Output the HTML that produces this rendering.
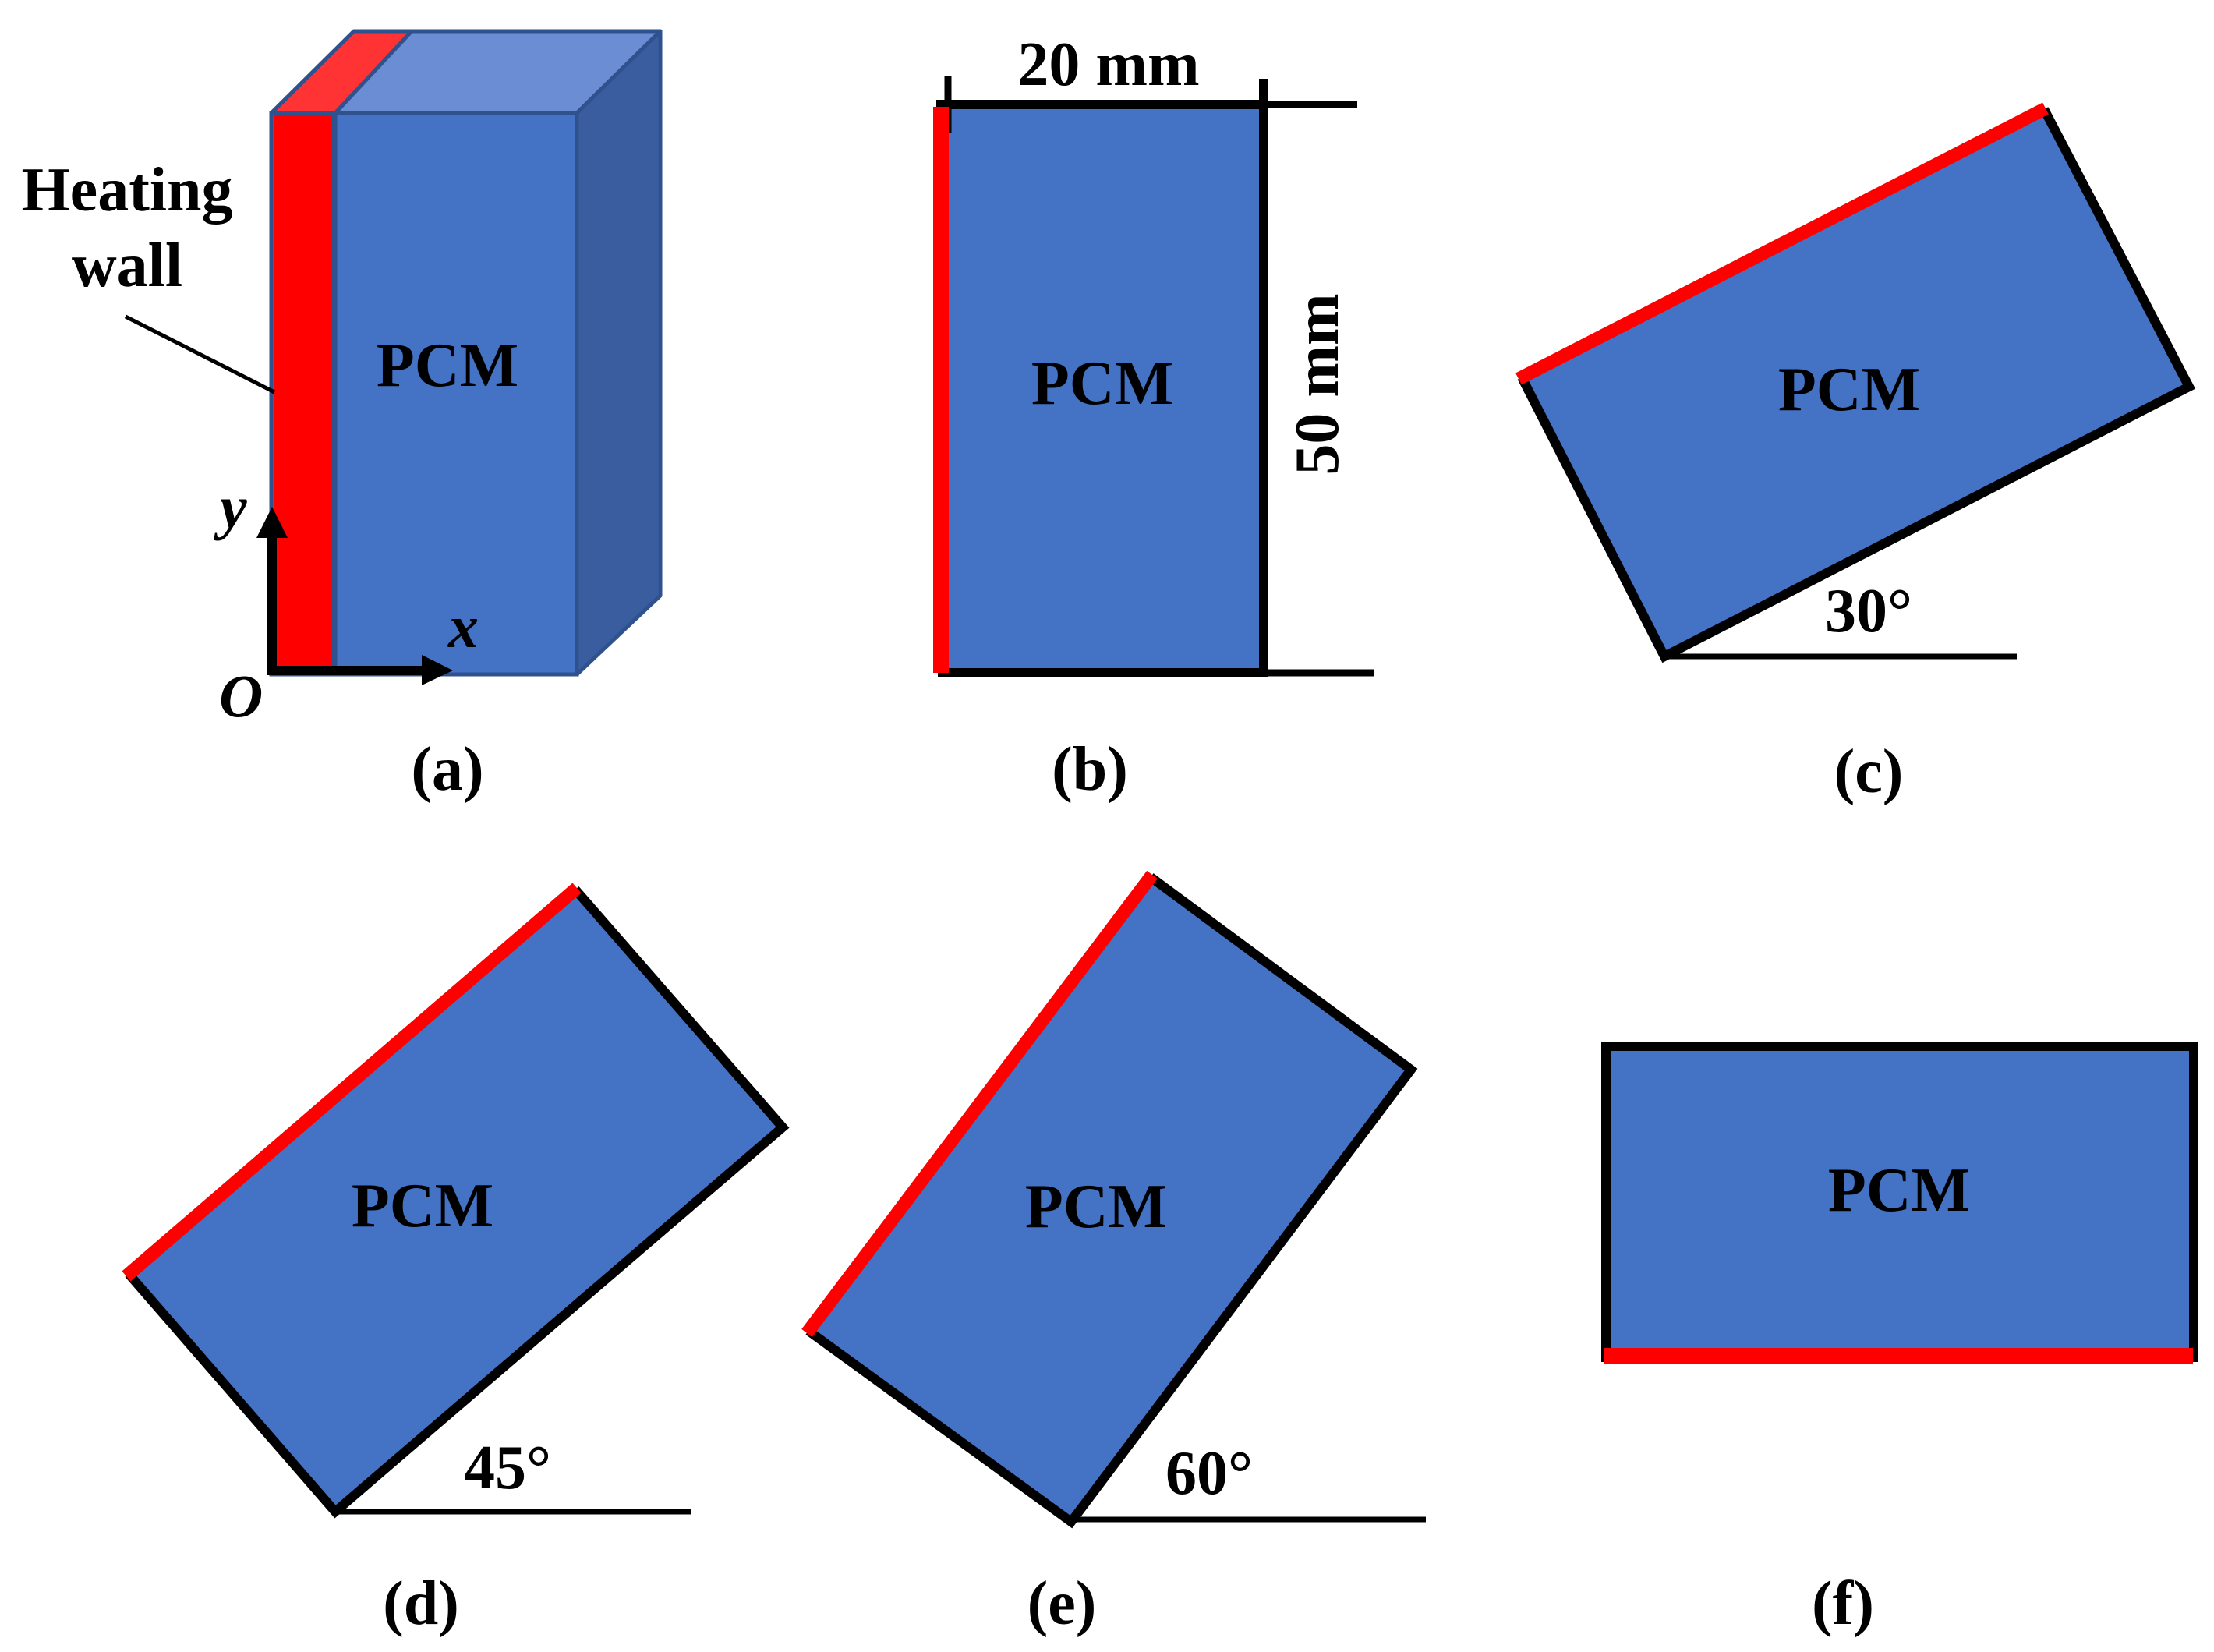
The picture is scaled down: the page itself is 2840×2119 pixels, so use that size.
<!DOCTYPE html>
<html>
<head>
<meta charset="utf-8">
<style>
  html, body { margin: 0; padding: 0; background: #ffffff; }
  body { width: 2840px; height: 2119px; overflow: hidden; }
  svg { display: block; }
  text { font-family: "Liberation Serif", "Times New Roman", serif; font-weight: bold; fill: #000; }
</style>
</head>
<body>
<svg width="2840" height="2119" viewBox="0 0 2840 2119" xmlns="http://www.w3.org/2000/svg">
  <rect x="0" y="0" width="2840" height="2119" fill="#ffffff"/>

  <!-- ========== (a) 3D box ========== -->
  <polygon points="454,40 847,40 740,145 348,145" fill="#6B8DD3" stroke="#2F528F" stroke-width="5" stroke-linejoin="round"/>
  <polygon points="454,40 528,40 430,145 348,145" fill="#FF3333" stroke="#2F528F" stroke-width="5" stroke-linejoin="round"/>
  <polygon points="740,145 847,40 847,764 740,865" fill="#3A5DA0" stroke="#2F528F" stroke-width="5" stroke-linejoin="round"/>
  <rect x="348" y="145" width="392" height="720" fill="#4472C4" stroke="#2F528F" stroke-width="5"/>
  <rect x="351" y="148" width="76" height="714" fill="#FF0000"/>
  <line x1="429" y1="146" x2="429" y2="864" stroke="#2F528F" stroke-width="7"/>

  <text x="163" y="270" font-size="80" text-anchor="middle">Heating</text>
  <text x="163" y="367" font-size="80" text-anchor="middle">wall</text>
  <line x1="161" y1="406" x2="352" y2="503" stroke="#000" stroke-width="5"/>

  <text x="574" y="495" font-size="80" text-anchor="middle">PCM</text>

  <line x1="349" y1="866" x2="349" y2="686" stroke="#000" stroke-width="12"/>
  <polygon points="329,690 369,690 349,650" fill="#000"/>
  <line x1="343" y1="860" x2="545" y2="860" stroke="#000" stroke-width="12"/>
  <polygon points="541,840 541,879 581,860" fill="#000"/>
  <text x="282" y="677" font-size="78" font-style="italic">y</text>
  <text x="575" y="830" font-size="78" font-style="italic">x</text>
  <text x="281" y="919" font-size="78" font-style="italic">O</text>

  <text x="574" y="1013" font-size="80" text-anchor="middle">(a)</text>

  <!-- ========== (b) ========== -->
  <rect x="1215" y="134" width="406" height="729" fill="#4472C4"/>
  <line x1="1201" y1="134" x2="1627" y2="134" stroke="#000" stroke-width="12"/>
  <line x1="1621" y1="134" x2="1741" y2="134" stroke="#000" stroke-width="9"/>
  <line x1="1203" y1="863" x2="1627" y2="863" stroke="#000" stroke-width="12"/>
  <line x1="1621" y1="863" x2="1763" y2="863" stroke="#000" stroke-width="9"/>
  <line x1="1621" y1="101" x2="1621" y2="869" stroke="#000" stroke-width="12"/>
  <line x1="1216" y1="98" x2="1216" y2="170" stroke="#000" stroke-width="9"/>
  <rect x="1197" y="137" width="20" height="726" fill="#FF0000"/>
  <text x="1422" y="109" font-size="80" text-anchor="middle">20 mm</text>
  <text x="0" y="0" font-size="80" text-anchor="middle" transform="translate(1716,493) rotate(-90)">50 mm</text>
  <text x="1414" y="518" font-size="80" text-anchor="middle">PCM</text>
  <text x="1398" y="1013" font-size="80" text-anchor="middle">(b)</text>

  <!-- ========== (c) 30° ========== -->
  <polygon points="1952,484 2622,140 2808,496 2135,842" fill="#4472C4"/>
  <polyline points="2622,140 2808,496 2135,842 1952,484" fill="none" stroke="#000" stroke-width="12" stroke-linejoin="miter"/>
  <line x1="1948" y1="486" x2="2624" y2="139" stroke="#FF0000" stroke-width="17"/>
  <line x1="2135" y1="842" x2="2587" y2="842" stroke="#000" stroke-width="7"/>
  <text x="2397" y="810" font-size="80" text-anchor="middle">30°</text>
  <text x="2372" y="526" font-size="80" text-anchor="middle">PCM</text>
  <text x="2397" y="1016" font-size="80" text-anchor="middle">(c)</text>

  <!-- ========== (d) 45° ========== -->
  <polygon points="165,1634 738,1141 1004,1446 430,1939" fill="#4472C4"/>
  <polyline points="738,1141 1004,1446 430,1939 165,1634" fill="none" stroke="#000" stroke-width="12" stroke-linejoin="miter"/>
  <line x1="162" y1="1637" x2="740" y2="1139" stroke="#FF0000" stroke-width="17"/>
  <line x1="430" y1="1939" x2="886" y2="1939" stroke="#000" stroke-width="7"/>
  <text x="651" y="1909" font-size="80" text-anchor="middle">45°</text>
  <text x="542" y="1573" font-size="80" text-anchor="middle">PCM</text>
  <text x="540" y="2083" font-size="80" text-anchor="middle">(d)</text>

  <!-- ========== (e) 60° ========== -->
  <polygon points="1037,1707 1476,1125 1810,1372 1374,1952" fill="#4472C4"/>
  <polyline points="1476,1125 1810,1372 1374,1952 1037,1707" fill="none" stroke="#000" stroke-width="12" stroke-linejoin="miter"/>
  <line x1="1035" y1="1710" x2="1478" y2="1122" stroke="#FF0000" stroke-width="17"/>
  <line x1="1374" y1="1949" x2="1829" y2="1949" stroke="#000" stroke-width="7"/>
  <text x="1551" y="1916" font-size="80" text-anchor="middle">60°</text>
  <text x="1406" y="1574" font-size="80" text-anchor="middle">PCM</text>
  <text x="1362" y="2083" font-size="80" text-anchor="middle">(e)</text>

  <!-- ========== (f) ========== -->
  <rect x="2060" y="1342" width="754" height="400" fill="#4472C4"/>
  <polyline points="2060,1747 2060,1342 2814,1342 2814,1747" fill="none" stroke="#000" stroke-width="12" stroke-linejoin="miter"/>
  <rect x="2058" y="1729" width="755" height="20" fill="#FF0000"/>
  <text x="2436" y="1553" font-size="80" text-anchor="middle">PCM</text>
  <text x="2364" y="2083" font-size="80" text-anchor="middle">(f)</text>
</svg>
</body>
</html>
